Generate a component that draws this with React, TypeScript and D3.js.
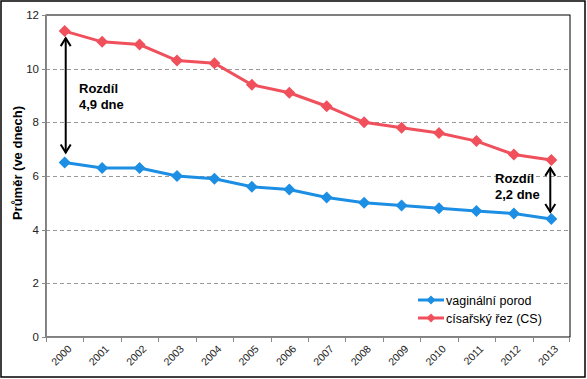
import React from "react";
import * as d3 from "d3";

const years = ["2000","2001","2002","2003","2004","2005","2006","2007","2008","2009","2010","2011","2012","2013"];
const vaginal = [6.5, 6.3, 6.3, 6.0, 5.9, 5.6, 5.5, 5.2, 5.0, 4.9, 4.8, 4.7, 4.6, 4.4];
const cesarean = [11.4, 11.0, 10.9, 10.3, 10.2, 9.4, 9.1, 8.6, 8.0, 7.8, 7.6, 7.3, 6.8, 6.6];
const yTicks = [0, 2, 4, 6, 8, 10, 12];
const seriesNames = ["vaginální porod", "císařský řez (CS)"];
const colors = ["#1C8EE3", "#F0505C"];

export default function App() {
  const W = 587, H = 379;
  const left = 46, right = 570, top = 15, bottom = 337;
  const x = d3.scaleBand().domain(years).range([left, right]);
  const y = d3.scaleLinear().domain([0, 12]).range([bottom, top]);
  const cx = (i: number) => (x(years[i]) as number) + x.bandwidth() / 2;
  const line = d3.line<number>().x((_, i) => cx(i)).y((d) => y(d));
  const diamond = (px: number, py: number, r = 6) =>
    `M${px},${py - r}L${px + r},${py}L${px},${py + r}L${px - r},${py}Z`;
  const series = [vaginal, cesarean];
  const font = "Arial, 'Liberation Sans', sans-serif";

  const i0 = 0, i1 = years.length - 1;
  const a1x = cx(i0) + 1, a1y1 = y(cesarean[i0]) + 7, a1y2 = y(vaginal[i0]) - 10;
  const a2x = cx(i1) - 1, a2y1 = y(cesarean[i1]) + 8, a2y2 = y(vaginal[i1]) - 7;
  const arrowHead = (px: number, py: number, dir: number) =>
    `M${px - 5},${py + dir * 8}L${px},${py}L${px + 5},${py + dir * 8}`;

  return (
    <svg width={W} height={H} style={{ display: "block", position: "absolute", left: 0, top: 0 }}>
      <rect x={0} y={0} width={W} height={H} fill="#fff" />
      <rect x={1} y={1} width={584} height={376} fill="#fff" stroke="#000" strokeWidth={1.5} />
      <rect x={left} y={top} width={right - left} height={bottom - top} fill="none" stroke="#000" strokeWidth={1} />
      {yTicks.filter((t) => t > 0 && t < 12).map((t) => (
        <line key={t} x1={left} x2={right} y1={Math.round(y(t)) + 0.5} y2={Math.round(y(t)) + 0.5}
          stroke="#999" strokeDasharray="4,3" strokeWidth={1} />
      ))}
      <line x1={left + 0.5} x2={left + 0.5} y1={top} y2={bottom} stroke="#888" />
      <line x1={left} x2={right} y1={bottom + 0.5} y2={bottom + 0.5} stroke="#888" />
      {yTicks.map((t) => (
        <g key={t}>
          <line x1={left - 4} x2={left} y1={Math.round(y(t)) + 0.5} y2={Math.round(y(t)) + 0.5} stroke="#888" />
          <text x={39} y={y(t) + 4} textAnchor="end" fontFamily={font} fontSize={11.5} fill="#222">{t}</text>
        </g>
      ))}
      {years.map((yr) => (
        <line key={"t" + yr} x1={Math.round(x(yr) as number) + 0.5} x2={Math.round(x(yr) as number) + 0.5}
          y1={bottom} y2={bottom + 5} stroke="#888" />
      ))}
      <line x1={right - 0.5} x2={right - 0.5} y1={bottom} y2={bottom + 5} stroke="#888" />
      {years.map((yr, i) => (
        <text key={yr} transform={`translate(${cx(i) + 5},${bottom + 10}) rotate(-45)`} textAnchor="end"
          fontFamily={font} fontSize={10.5} fill="#222" dy="0.35em">{yr}</text>
      ))}
      <text transform={`translate(22,163) rotate(-90)`} textAnchor="middle" fontFamily={font} fontSize={13}
        fontWeight="bold" fill="#000">Průměr (ve dnech)</text>
      {series.map((s, k) => (
        <g key={k}>
          <path d={line(s) as string} fill="none" stroke={colors[k]} strokeWidth={3} />
          {s.map((v, i) => (
            <path key={i} d={diamond(cx(i), y(v))} fill={colors[k]} />
          ))}
        </g>
      ))}
      <g stroke="#000" strokeWidth={2} fill="none">
        <line x1={a1x} x2={a1x} y1={a1y1} y2={a1y2} />
        <path d={arrowHead(a1x, a1y1, 1)} />
        <path d={arrowHead(a1x, a1y2, -1)} />
        <line x1={a2x} x2={a2x} y1={a2y1} y2={a2y2} />
        <path d={arrowHead(a2x, a2y1, 1)} />
        <path d={arrowHead(a2x, a2y2, -1)} />
      </g>
      <g fontFamily={font} fontSize={13} fontWeight="bold" fill="#000">
        <text x={79} y={93}>Rozdíl</text>
        <text x={79} y={109}>4,9 dne</text>
        <text x={495} y={183}>Rozdíl</text>
        <text x={495} y={199}>2,2 dne</text>
      </g>
      {seriesNames.map((n, k) => (
        <g key={n}>
          <line x1={418} x2={444} y1={300 + k * 18} y2={300 + k * 18} stroke={colors[k]} strokeWidth={3} />
          <path d={diamond(431, 300 + k * 18, 4.5)} fill={colors[k]} />
          <text x={446} y={304.5 + k * 18} fontFamily={font} fontSize={12.5} fill="#000">{n}</text>
        </g>
      ))}
    </svg>
  );
}
